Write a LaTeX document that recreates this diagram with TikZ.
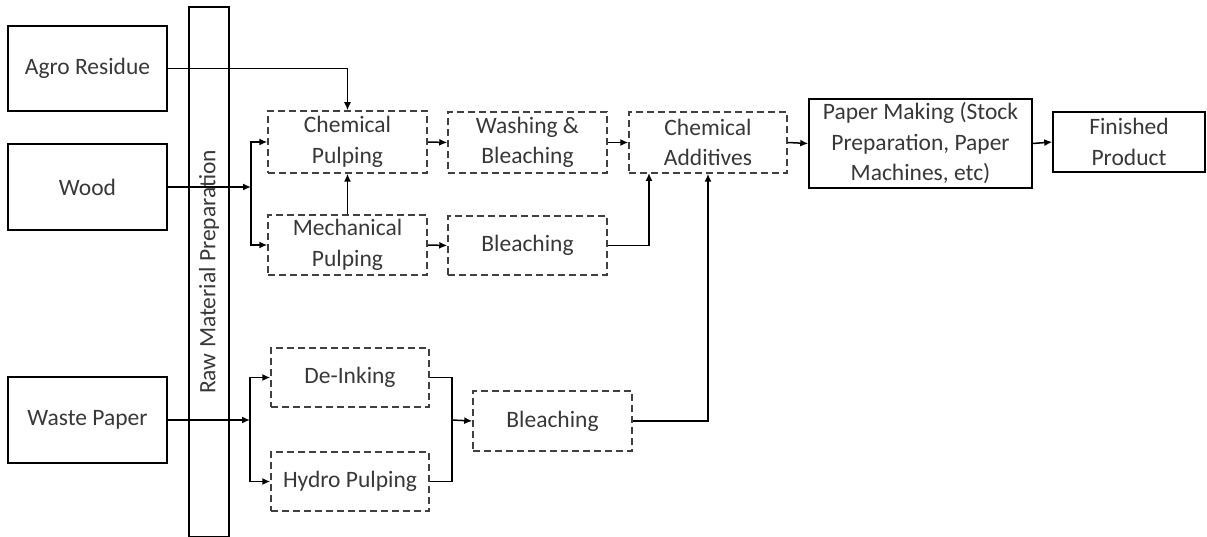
\documentclass[tikz,border=0pt]{standalone}
\usepackage{fontspec}
\setmainfont{Carlito}
\usetikzlibrary{arrows.meta}
\begin{document}
\begin{tikzpicture}[x=1pt,y=-1pt,
  every node/.style={font=\fontsize{23.5}{30.5}\selectfont, text=black!78, align=center, inner sep=0pt},
  solidbox/.style={draw=black, line width=1.5pt, minimum width=#1},
  dashbox/.style={draw=black!75, line width=1.5pt, dash pattern=on 7pt off 4pt, minimum width=159pt, minimum height=60pt},
  arr/.style={draw=black, line width=1.5pt, -{Latex[length=8pt,width=7pt]}},
  ln/.style={draw=black, line width=1.5pt}]
\useasboundingbox (0,0) rectangle (1207,537);
% sources
\node[solidbox=159pt, minimum height=85pt] (agro) at (87.5,68.5) {Agro Residue};
\node[solidbox=159pt, minimum height=86pt] (wood) at (87.5,187) {Wood};
\node[solidbox=159pt, minimum height=86pt] (waste) at (87.5,420) {Waste Paper};
% raw material bar
\node[solidbox=40pt, minimum height=530pt] (bar) at (209,272) {};
\node[rotate=90] (barlabel) at (bar.center) {Raw Material Preparation};
% upper process
\node[dashbox, minimum height=62pt] (chem) at (347.5,142) {Chemical\\Pulping};
\node[dashbox] (mech) at (347.5,245) {Mechanical\\Pulping};
\node[dashbox, minimum height=61pt] (wash) at (527.5,142.5) {Washing \&\\Bleaching};
\node[dashbox, minimum height=59pt] (bleach1) at (527.5,245.5) {Bleaching};
\node[dashbox, minimum width=158pt, minimum height=61pt] (add) at (708,142.5) {Chemical\\Additives};
\node[solidbox=223pt, minimum height=89pt] (paper) at (920.5,143.5) {Paper Making (Stock\\Preparation, Paper\\Machines, etc)};
\node[solidbox=152pt, minimum height=60pt] (fin) at (1129,142) {Finished\\Product};
% lower process
\node[dashbox, minimum width=158pt, minimum height=59pt] (dein) at (350,377.5) {De-Inking};
\node[dashbox, minimum width=158pt, minimum height=59pt] (hydro) at (350,481.5) {Hydro Pulping};
\node[dashbox] (bleach2) at (552.5,421) {Bleaching};
% coordinates
\coordinate (wsplit) at (251,187);
\coordinate (psplit) at (250,420);
\coordinate (pjoin) at (452,420);
\coordinate (b1up) at (649,173);
% connectors
\draw[arr] (agro.east) -| (chem.north);
\draw[arr] (wood.east) -- (wsplit);
\draw[arr] (wsplit) |- (chem.west);
\draw[arr] (wsplit) |- (mech.west);
\draw[arr] (mech.north) -- (chem.south);
\draw[arr] (chem.east) -- (wash.west);
\draw[arr] (mech.east) -- (bleach1.west);
\draw[arr] (wash.east) -- (add.west);
\draw[arr] (bleach1.east) -| (b1up);
\draw[arr] (add.east) -- (paper.west);
\draw[arr] (paper.east) -- (fin.west);
\draw[arr] (waste.east) -- (psplit);
\draw[arr] (psplit) |- (dein.west);
\draw[arr] (psplit) |- (hydro.west);
\draw[ln] (dein.east) -| (pjoin);
\draw[ln] (hydro.east) -| (pjoin);
\draw[arr] (pjoin) -- (bleach2.west);
\draw[arr] (bleach2.east) -| (add.south);
\end{tikzpicture}
\end{document}
